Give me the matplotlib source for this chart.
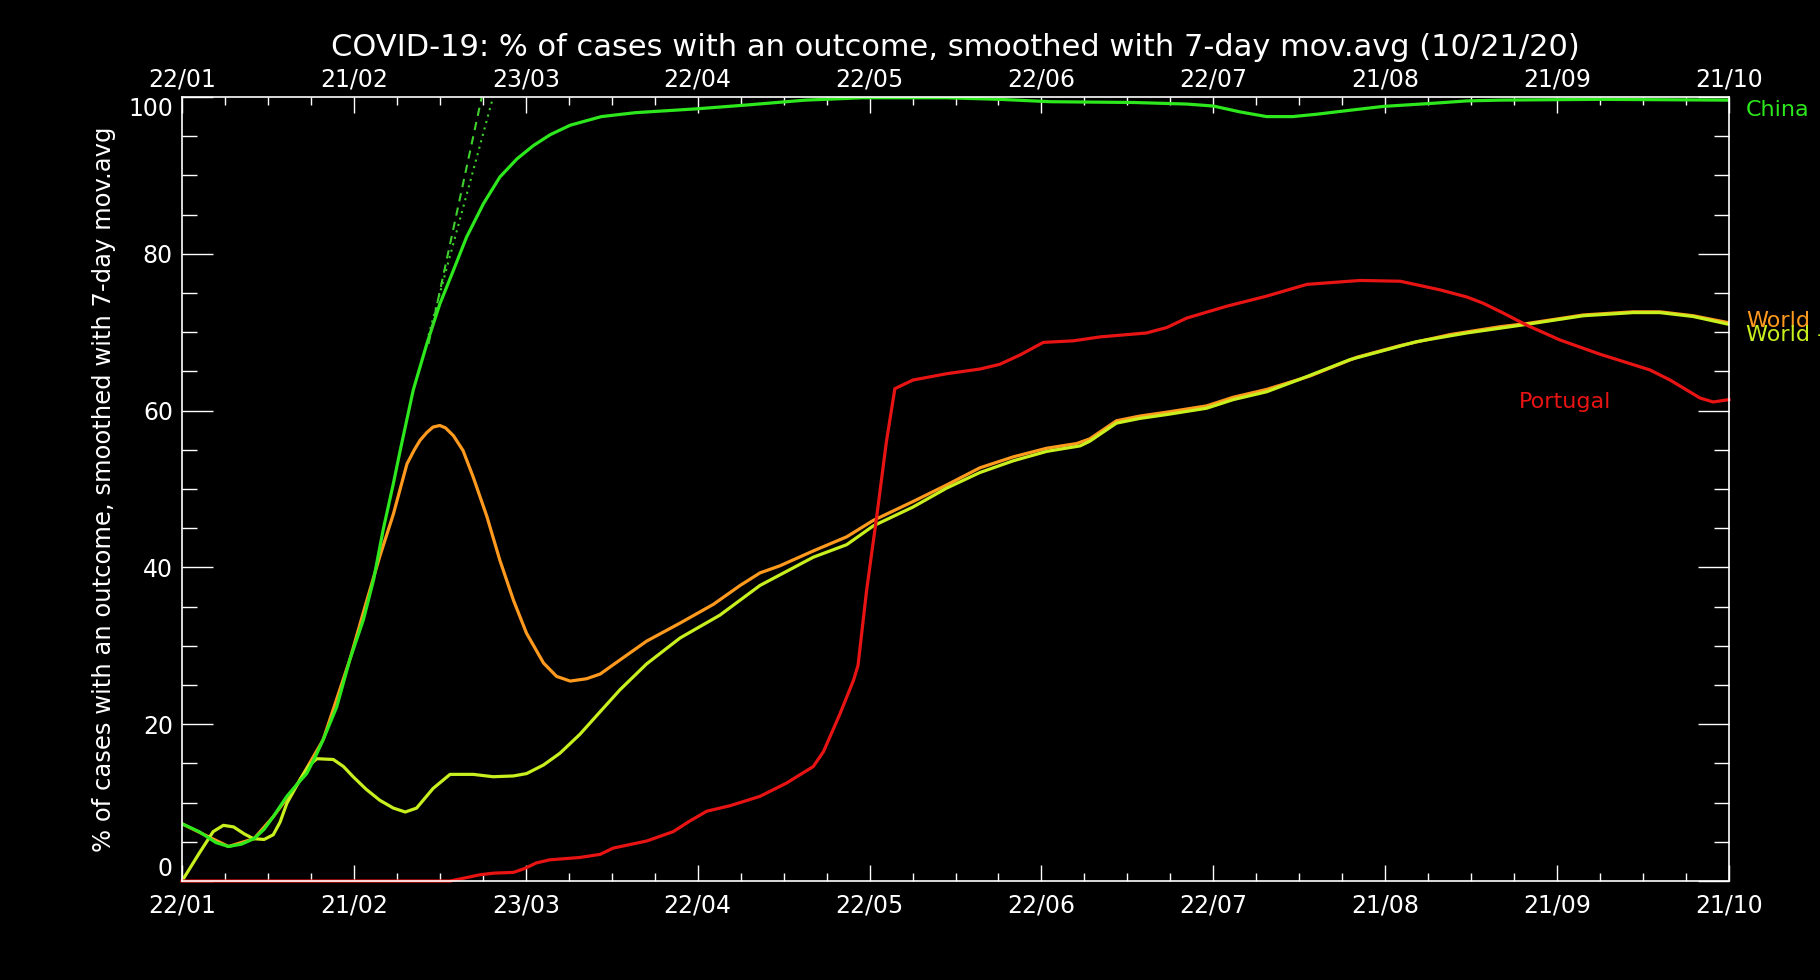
import numpy as np
import matplotlib
matplotlib.use("Agg")
import matplotlib.pyplot as plt

# ---- data (day 0 = 22 Jan 2020, value = % of cases with an outcome)
china_day = [0, 3, 6, 8.2, 10.5, 12.7, 14.5, 16.1, 18.5, 20.5, 22, 23.5, 24.9, 27.3,
             29.6, 32, 33.8, 35.5, 37.3, 38.5, 40.8, 43.2, 45.5, 47.9, 50.2, 53.2,
             56.1, 59.1, 62, 65, 68.5, 74, 80, 91, 100, 110, 120, 135, 144.3, 153.2,
             167.9, 177.3, 182, 186.7, 191.4, 196, 200.2, 206, 212, 220.8, 226.7,
             232.6, 250, 273]
china_val = [7.3, 6.3, 4.9, 4.4, 4.7, 5.4, 6.6, 8.2, 10.8, 12.5, 13.7, 15.8, 18.0, 22.2,
             28.2, 33.3, 38.4, 44.8, 50.7, 54.9, 62.6, 68.5, 73.6, 77.9, 82.1, 86.4,
             89.8, 92.1, 93.8, 95.2, 96.4, 97.5, 98.0, 98.5, 99.0, 99.6, 99.9, 99.9, 99.7, 99.4,
             99.3, 99.1, 98.85, 98.1, 97.5, 97.5, 97.8, 98.3, 98.8, 99.2, 99.5,
             99.6, 99.7, 99.6]

world_day = [0, 8.2, 12.7, 16.1, 20.5, 24.9, 29.6, 32.3, 34.9, 37.3, 39.7, 41, 42, 43.2,
             44.3, 45.5, 46.5, 47.9, 49.6, 51.4, 53.8, 56.1, 58.5, 60.8, 63.8, 66.1, 68.5,
             71.4, 73.8, 77.3, 82, 87.9, 93.8, 98.5, 102, 105.5, 111.4, 117.3, 122, 129,
             134.9, 140.8, 146.7, 152.6, 157.9, 160.2, 164.9, 169, 173.8, 180.8, 185.5,
             191.4, 199, 207.3, 215, 223.8, 232.6, 237.3, 247.3, 256.1, 260.8, 266.7, 273]
world_val = [7.3, 4.4, 5.4, 8.2, 12.5, 18.0, 28.2, 35.0, 41.4, 46.8, 53.2, 55.0, 56.2, 57.2,
             57.9, 58.1, 57.8, 56.8, 54.9, 51.5, 46.5, 40.9, 35.8, 31.6, 27.8, 26.1, 25.5,
             25.8, 26.4, 28.2, 30.6, 32.9, 35.3, 37.7, 39.3, 40.2, 42.1, 43.9, 46.0, 48.4,
             50.5, 52.7, 54.1, 55.2, 55.8, 56.4, 58.7, 59.3, 59.8, 60.6, 61.7,
             62.7, 64.4, 66.8, 68.3, 69.7, 70.7, 71.1, 72.2, 72.6, 72.6, 72.1, 71.2]

noch_day = [0, 3, 5.5, 7.3, 9.1, 11, 12.6, 14.5, 16.1, 17.3, 18.5, 20.8, 22.5, 23.8, 26.7,
            28.5, 30.2, 32.5, 34.9, 37.3, 39.4, 41.4, 44.3, 47.3, 51.4, 54.9, 58.5, 60.8,
            63.8, 66.7, 70.2, 73.8, 77.3, 82, 87.9, 94.9, 102, 111.4, 117.3, 122, 129,
            134.9, 140.8, 146.7, 152.6, 158.5, 160.2, 164.9, 169, 173.8, 180.8, 185.5,
            191.4, 197.3, 206.1, 217.9, 226.7, 237.3, 247.3, 256.1, 260.8, 266.7, 273]
noch_val = [0, 3.5, 6.3, 7.1, 6.9, 6.0, 5.4, 5.3, 5.9, 7.5, 9.9, 12.9, 14.8, 15.6, 15.5,
            14.6, 13.3, 11.7, 10.3, 9.3, 8.8, 9.3, 11.8, 13.6, 13.6, 13.3, 13.4, 13.7,
            14.8, 16.3, 18.7, 21.6, 24.4, 27.7, 31.0, 33.9, 37.7, 41.3, 42.9, 45.3, 47.7,
            50.1, 52.1, 53.6, 54.8, 55.5, 56.1, 58.4, 59.0, 59.5, 60.3, 61.4,
            62.4, 64.0, 66.5, 68.8, 69.9, 71.0, 72.1, 72.5, 72.5, 72.0, 71.0]

port_day = [0, 47.3, 50, 52.6, 55, 58.5, 60.5, 62.5, 64.9, 70.2, 73.8, 76.1, 82, 86.7,
            89.5, 92.6, 96.7, 102, 106.7, 111.4, 113.2, 116.1, 118.5, 119.3, 120.8,
            122.6, 124.3, 125.8, 129, 134.9, 140.8, 144.3, 147.9, 152, 157.3, 162,
            170.2, 173.8, 177.3, 184.3, 191.4, 198.5, 207.9, 215, 222, 226.7, 229.6,
            233, 237.3, 243.2, 250.2, 259, 262.6, 267.9, 270.2, 273]
port_val = [0, 0, 0.4, 0.8, 1.0, 1.1, 1.6, 2.3, 2.7, 3.0, 3.4, 4.2, 5.1, 6.3,
            7.6, 8.9, 9.6, 10.8, 12.5, 14.6, 16.5, 21.3, 25.6, 27.5, 37.0,
            46.5, 56.0, 62.8, 63.9, 64.7, 65.3, 65.9, 67.1, 68.7, 68.9, 69.4,
            69.9, 70.6, 71.8, 73.3, 74.6, 76.1, 76.6, 76.5, 75.4, 74.5, 73.7,
            72.5, 70.9, 69.0, 67.2, 65.2, 63.9, 61.6, 61.1, 61.4]

# fitted growth lines for China (dashed / dotted)
fit1_day = [43.5, 52.9]
fit1_val = [68.5, 100]
fit2_day = [43.5, 54.9]
fit2_val = [69.6, 100]

date_labels = ["22/01", "21/02", "23/03", "22/04", "22/05", "22/06",
               "22/07", "21/08", "21/09", "21/10"]
n_days = 273

c_china = "#2de81c"
c_world = "#ff9a1e"
c_noch = "#c8f01e"
c_port = "#e81414"

fig = plt.figure(figsize=(18.2, 9.8), dpi=100, facecolor="black")
ax = fig.add_axes([182 / 1820, 1 - 881 / 980, 1547 / 1820, 784 / 980])
ax.set_facecolor("black")

ax.plot(world_day, world_val, color=c_world, lw=2.3)
ax.plot(noch_day, noch_val, color=c_noch, lw=2.3)
ax.plot(china_day, china_val, color=c_china, lw=2.3)
ax.plot(fit1_day, fit1_val, color="#3fd22c", lw=1.5, dashes=(4, 3))
ax.plot(fit2_day, fit2_val, color="#3fd22c", lw=1.5, dashes=(1, 2.2))
ax.plot(port_day, port_val, color=c_port, lw=2.3, clip_on=False)

ax.set_xlim(0, n_days)
ax.set_ylim(0, 100)

for s in ax.spines.values():
    s.set_color("white")
    s.set_linewidth(1.2)

major_x = np.linspace(0, n_days, len(date_labels))
ax.set_xticks(major_x, date_labels)
ax.set_xticks(np.linspace(0, n_days, 4 * (len(date_labels) - 1) + 1), minor=True)
ax.set_yticks([0, 20, 40, 60, 80, 100])
ax.set_yticks(np.arange(0, 101, 5), minor=True)

ax.tick_params(axis="x", which="major", direction="in", length=11.5, width=1,
               color="white", labelcolor="white", labelsize=17, pad=9, top=True)
ax.tick_params(axis="x", which="minor", direction="in", length=5.5, width=1,
               color="white", top=True)
ax.tick_params(axis="y", which="major", direction="in", length=22, width=1,
               color="white", labelcolor="white", labelsize=17, pad=6.5, right=True)
ax.tick_params(axis="y", which="minor", direction="in", length=11, width=1,
               color="white", right=True)

# top date axis
top = ax.secondary_xaxis("top")
top.set_xticks(major_x, date_labels)
top.tick_params(axis="x", which="major", direction="in", length=0,
                labelcolor="white", labelsize=17, pad=4)
top.spines["top"].set_visible(False)

ylabs = ax.get_yticklabels()
ylabs[0].set_va("bottom")
ylabs[-1].set_va("top")

fig.text(955 / 1820, 1 - 47 / 980,
         "COVID-19: % of cases with an outcome, smoothed with 7-day mov.avg (10/21/20)",
         ha="center", va="center", fontsize=22, color="white")
fig.text(104 / 1820, 1 - 489 / 980,
         "% of cases with an outcome, smoothed with 7-day mov.avg",
         rotation=90, ha="center", va="center", fontsize=17.5, color="white")

ax.text(276, 98.3, "China", color=c_china, fontsize=16, va="center", clip_on=False)
ax.text(276, 71.4, "World", color=c_world, fontsize=16, va="center", clip_on=False)
ax.text(276, 69.6, "World - China", color=c_noch, fontsize=16, va="center", clip_on=False)
ax.text(236, 61.1, "Portugal", color=c_port, fontsize=16, va="center")

fig.savefig("out.png", dpi=100, facecolor="black")
